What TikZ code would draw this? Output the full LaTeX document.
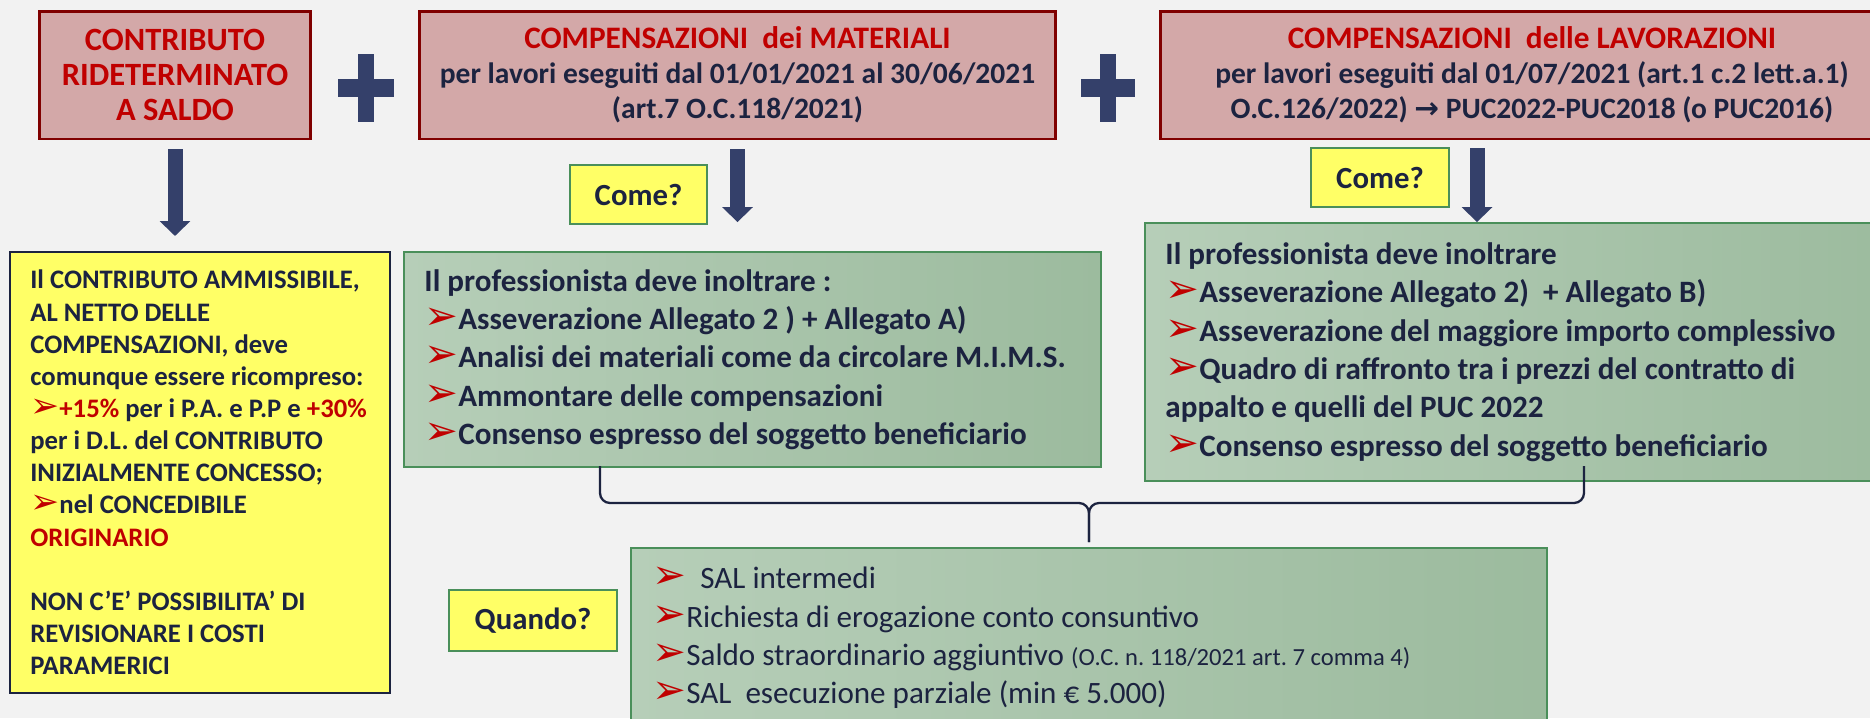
\documentclass[tikz,border=0pt]{standalone}
\usepackage{fontspec}
\setmainfont{Carlito}
\newfontfamily\symfont{DejaVu Sans}[Scale=1.3]
\newfontfamily\arrowfont{DejaVu Sans}
\usepackage{xcolor}
\usetikzlibrary{arrows.meta}

\definecolor{bgcol}{HTML}{F2F2F2}
\definecolor{boxpink}{HTML}{D3A8A8}
\definecolor{boxred}{HTML}{800000}
\definecolor{titred}{HTML}{C00000}
\definecolor{txtdark}{HTML}{1C2340}
\definecolor{navy}{HTML}{34406A}
\definecolor{askyellow}{HTML}{FFFF66}
\definecolor{boxgreen}{HTML}{4A8F5A}
\definecolor{greenL}{HTML}{B6CEB8}
\definecolor{greenD}{HTML}{9CBB9E}
\definecolor{bulred}{HTML}{C00000}

\newcommand{\arrbul}{{\symfont\color{bulred}➢}}
\newcommand{\titfont}{\fontsize{17.8}{20}\selectfont}

\begin{document}
\frenchspacing
\begin{tikzpicture}[x=0.02cm, y=-0.02cm,
  topbox/.style={draw=boxred, line width=1.7pt, fill=boxpink, minimum height=2.56cm, align=center, text=txtdark, font=\fontsize{16.8}{20}\selectfont\bfseries},
  greenbox/.style={draw=boxgreen, line width=1.1pt, left color=greenL, right color=greenD},
  boxtext/.style={inner sep=0pt, align=left, text=txtdark, font=\fontsize{17.7}{21.8}\selectfont\bfseries},
  askbox/.style={draw=boxgreen, line width=1.1pt, fill=askyellow, text=txtdark, font=\fontsize{17.5}{20}\selectfont\bfseries},
  bigarrow/.style={draw=navy, line width=0.3cm, -{Triangle[width=0.6cm,length=0.3cm]}},
  bracepath/.style={draw=txtdark, line width=1.3pt, rounded corners=0.2cm}]
\useasboundingbox (0,0) rectangle (1870,718);
\clip (0,0) rectangle (1870,718);
\fill[bgcol] (0,0) rectangle (1870,718);

% Top row
\node[topbox, minimum width=5.44cm, font=\fontsize{18.5}{20}\selectfont\bfseries] (contr) at (175,75) {\textcolor{titred}{CONTRIBUTO}\\ \textcolor{titred}{RIDETERMINATO}\\ \textcolor{titred}{A SALDO}};
\node[topbox, minimum width=12.74cm] (mater) at (737.5,75) {\textcolor{titred}{\titfont COMPENSAZIONI~ dei MATERIALI}\\ per lavori eseguiti dal 01/01/2021 al 30/06/2021\\ (art.7 O.C.118/2021)};
\node[topbox, minimum width=14.88cm] (lavor) at (1532,75) {\textcolor{titred}{\titfont COMPENSAZIONI~ delle LAVORAZIONI}\\ per lavori eseguiti dal 01/07/2021 (art.1 c.2 lett.a.1)\\ O.C.126/2022) {\arrowfont →} PUC2022-PUC2018 (o PUC2016)};

% Plus signs
\fill[navy] (358,54) rectangle (374,122);
\fill[navy] (338,79) rectangle (394,97);
\fill[navy] (1100,54) rectangle (1116,122);
\fill[navy] (1081,79) rectangle (1135,97);

% Questions
\node[askbox, minimum width=2.74cm, minimum height=1.18cm] (come1) at (638.5,194.5) {Come?};
\node[askbox, minimum width=2.76cm, minimum height=1.18cm] (come2) at (1380,177.5) {Come?};
\node[askbox, minimum width=3.36cm, minimum height=1.22cm] (quando) at (533,620.5) {Quando?};

% Second row
\node[draw=txtdark, line width=1.2pt, fill=askyellow, minimum width=7.6cm, minimum height=8.82cm] (ammiss) at (200,472.5) {};
\node[boxtext, anchor=west, font=\fontsize{15.2}{18.3}\selectfont\bfseries] (ammisstxt) at ([xshift=0.42cm]ammiss.west) {Il CONTRIBUTO AMMISSIBILE,\\ AL NETTO DELLE\\ COMPENSAZIONI, deve\\ comunque essere ricompreso:\\ \arrbul\textcolor{titred}{+15\%} per i P.A. e P.P e \textcolor{titred}{+30\%}\\ per i D.L. del CONTRIBUTO\\ INIZIALMENTE CONCESSO;\\ \arrbul nel CONCEDIBILE\\ \textcolor{titred}{ORIGINARIO}\\ \mbox{}\\ NON C’E’ POSSIBILITA’ DI\\ REVISIONARE I COSTI\\ PARAMERICI};

\node[greenbox, minimum width=13.94cm, minimum height=4.3cm] (green1) at (752.5,359.5) {};
\node[boxtext, anchor=west] (green1txt) at ([xshift=0.42cm]green1.west) {Il professionista deve inoltrare :\\ \arrbul Asseverazione Allegato 2 ) + Allegato A)\\ \arrbul Analisi dei materiali come da circolare M.I.M.S.\\ \arrbul Ammontare delle compensazioni\\ \arrbul Consenso espresso del soggetto beneficiario};

\node[greenbox, minimum width=15.1cm, minimum height=5.16cm] (green2) at (1522.5,352) {};
\node[boxtext, anchor=west] (green2txt) at ([xshift=0.42cm]green2.west) {Il professionista deve inoltrare\\ \arrbul Asseverazione Allegato 2)~ + Allegato B)\\ \arrbul Asseverazione del maggiore importo complessivo\\ \arrbul Quadro di raffronto tra i prezzi del contratto di\\ appalto e quelli del PUC 2022\\ \arrbul Consenso espresso del soggetto beneficiario};

% Bottom box
\node[greenbox, minimum width=18.32cm, minimum height=3.6cm] (sal) at (1089,638) {};
\node[boxtext, anchor=west, font=\fontsize{17.7}{21.8}\selectfont] (saltxt) at ([xshift=0.44cm]sal.west) {\arrbul~ SAL intermedi\\ \arrbul Richiesta di erogazione conto consuntivo\\ \arrbul Saldo straordinario aggiuntivo {\fontsize{14}{16}\selectfont(O.C. n. 118/2021 art. 7 comma 4)}\\ \arrbul SAL~ esecuzione parziale (min € 5.000)};

% Arrows
\coordinate (a3) at (1477,148);
\draw[bigarrow] ([yshift=-0.18cm]contr.south) -- ([yshift=0.3cm]contr.south |- ammiss.north);
\draw[bigarrow] ([yshift=-0.18cm]mater.south) -- ([yshift=0.58cm]mater.south |- green1.north);
\draw[bigarrow] (a3) -- (a3 |- green2.north);

% Brace
\coordinate (braceL) at (600,466);
\coordinate (braceR) at (1584,466);
\coordinate (braceY) at (0,503);
\coordinate (tip) at ([yshift=0.1cm]sal.north);
\draw[bracepath] (braceL) |- (tip |- braceY) -- (tip);
\draw[bracepath] (braceR) |- (tip |- braceY) -- (tip);

\end{tikzpicture}
\end{document}
